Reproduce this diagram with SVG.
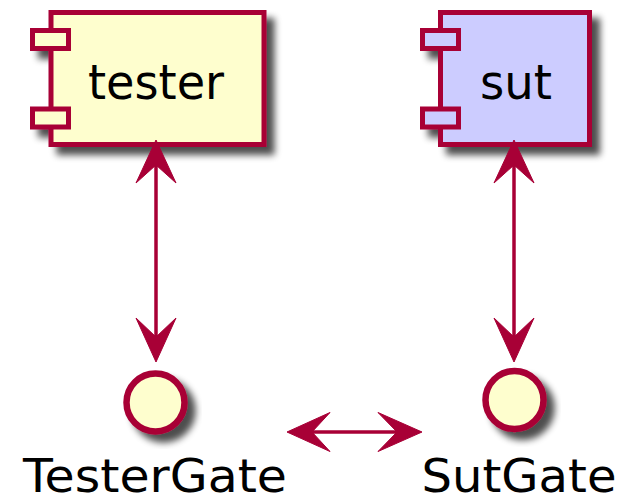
<svg xmlns="http://www.w3.org/2000/svg" width="621" height="503" viewBox="0 0 621 503">
  <style>
    .box { stroke: #A80036; stroke-width: 5; }
    .tester { fill: #FEFECE; }
    .sut { fill: #CCCCFF; }
    .gate { fill: #FEFECE; stroke: #A80036; stroke-width: 6.5; }
    .label { font-family: "DejaVu Sans", "Liberation Sans", sans-serif; fill: #000000; }
    .link { stroke: #A80036; stroke-width: 3.5; fill: none; }
    .head { fill: #A80036; stroke: #A80036; stroke-width: 1; stroke-linejoin: miter; }
  </style>
  <defs>
    <filter id="shadow" x="-20%" y="-20%" width="150%" height="150%">
      <feGaussianBlur in="SourceAlpha" stdDeviation="3.5" result="blur"/>
      <feOffset in="blur" dx="8" dy="8" result="off"/>
      <feComponentTransfer in="off" result="soft">
        <feFuncA type="linear" slope="0.7"/>
      </feComponentTransfer>
      <feMerge>
        <feMergeNode in="soft"/>
        <feMergeNode in="SourceGraphic"/>
      </feMerge>
    </filter>
  </defs>
  <rect width="621" height="503" fill="#FFFFFF"/>

  <g id="tester">
    <g filter="url(#shadow)">
      <rect class="box tester" x="51" y="12.5" width="213" height="132"/>
      <rect class="box tester" x="32.5" y="30.5" width="36" height="18"/>
      <rect class="box tester" x="32.5" y="109" width="36" height="18"/>
    </g>
    <text class="label" x="156" y="98.5" font-size="48" text-anchor="middle" textLength="136" lengthAdjust="spacingAndGlyphs">tester</text>
  </g>

  <g id="sut">
    <g filter="url(#shadow)">
      <rect class="box sut" x="440.5" y="12.5" width="149" height="132"/>
      <rect class="box sut" x="422.5" y="30.5" width="36" height="18"/>
      <rect class="box sut" x="422.5" y="109" width="36" height="18"/>
    </g>
    <text class="label" x="516" y="99" font-size="48" text-anchor="middle" textLength="72" lengthAdjust="spacingAndGlyphs">sut</text>
  </g>

  <g id="TesterGate">
    <circle class="gate" cx="155.5" cy="402.5" r="29" filter="url(#shadow)"/>
    <text class="label" x="155" y="492" font-size="45.5" text-anchor="middle" textLength="264" lengthAdjust="spacingAndGlyphs">TesterGate</text>
  </g>

  <g id="SutGate">
    <circle class="gate" cx="514.5" cy="400" r="29" filter="url(#shadow)"/>
    <text class="label" x="519" y="492" font-size="45.5" text-anchor="middle" textLength="195" lengthAdjust="spacingAndGlyphs">SutGate</text>
  </g>

  <g id="connectors">
    <!-- tester <-> TesterGate -->
    <line class="link" x1="156" y1="160" x2="156" y2="342"/>
    <path class="head" d="M156,140 L176,183 L156,165 L136,183 Z"/>
    <path class="head" d="M156,362 L176,318 L156,337 L136,318 Z"/>
    <!-- sut <-> SutGate -->
    <line class="link" x1="514" y1="160" x2="514" y2="342"/>
    <path class="head" d="M514,140 L534,183 L514,165 L494,183 Z"/>
    <path class="head" d="M514,362 L534,318 L514,337 L494,318 Z"/>
    <!-- TesterGate <-> SutGate -->
    <line class="link" x1="308" y1="432" x2="400" y2="432"/>
    <path class="head" d="M287,432 L330,412.5 L312,432 L330,451.5 Z"/>
    <path class="head" d="M422,432 L378,412.5 L397,432 L378,451.5 Z"/>
  </g>
</svg>
